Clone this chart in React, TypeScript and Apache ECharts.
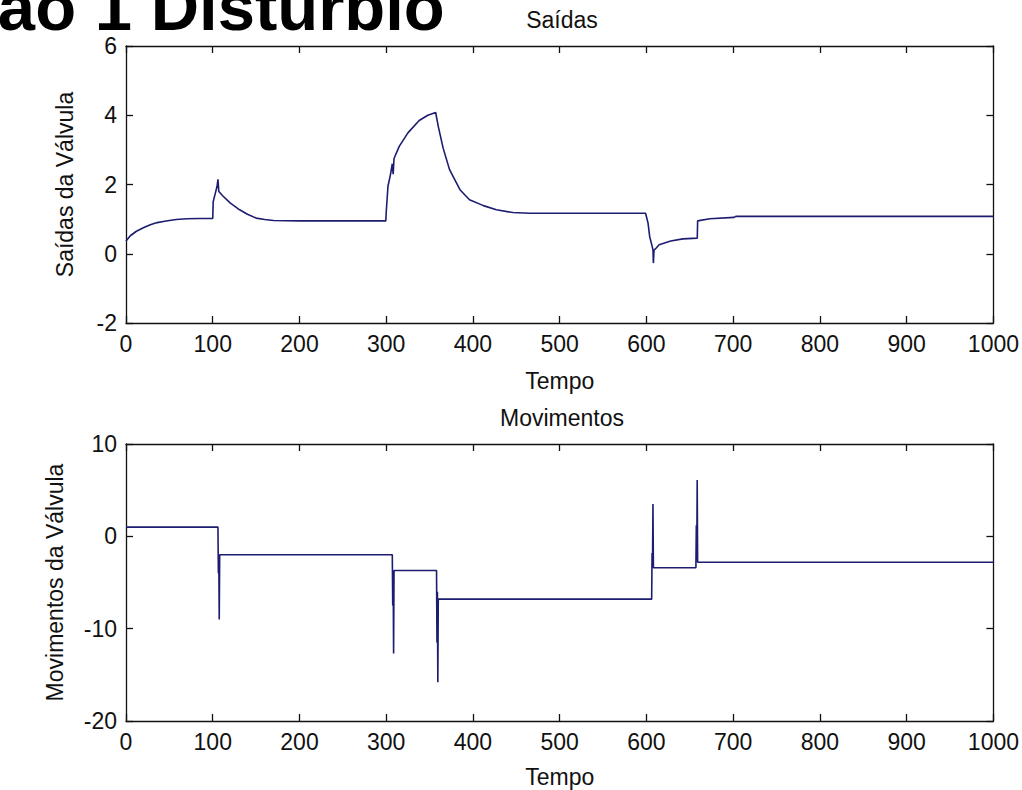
import React, { useEffect, useRef } from "react";
import * as echarts from "echarts";

// Saídas da Válvula (t, value)
const saidasT = [0, 5, 12, 20, 28, 36, 43, 50, 58, 70, 85, 100, 100.5, 103, 105, 106, 107, 112, 120, 131, 140, 150, 160, 170, 200, 299.5, 300, 302, 305, 307, 308, 309, 315, 325, 338, 348, 357, 360, 365.6, 373, 385, 396, 412, 427, 446, 465, 599, 601.8, 603.7, 607.5, 608, 608.7, 611, 614.6, 628, 642, 658.6, 659, 673, 701, 703, 1000];
const saidasV = [0.37, 0.52, 0.65, 0.75, 0.84, 0.9, 0.93, 0.96, 0.99, 1.01, 1.02, 1.02, 1.5, 1.75, 1.95, 2.15, 1.8, 1.66, 1.47, 1.27, 1.14, 1.03, 0.99, 0.96, 0.95, 0.95, 1.2, 1.95, 2.3, 2.6, 2.3, 2.75, 3.1, 3.49, 3.85, 4.0, 4.08, 3.68, 3.05, 2.43, 1.85, 1.56, 1.39, 1.27, 1.19, 1.17, 1.17, 0.89, 0.5, 0.12, -0.27, 0.1, 0.16, 0.26, 0.37, 0.43, 0.45, 0.95, 1.01, 1.05, 1.08, 1.08];

// Movimentos da Válvula (t, value)
const movT = [0, 106, 106.5, 107, 107.5, 108, 307, 307.5, 308, 308.5, 309, 358, 358.5, 359, 359.5, 360, 606, 606.5, 607, 607.5, 608, 657, 657.5, 658, 658.5, 659, 1000];
const movV = [1, 1, -4, -2.5, -9, -2, -2, -7.5, -4, -12.7, -3.7, -3.7, -11.5, -6, -15.8, -6.8, -6.8, -1.8, -3, 3.5, -3.4, -3.4, 1.2, -2.5, 6.1, -2.8, -2.8];

const topTitle = "Saídas";
const bottomTitle = "Movimentos";
const topYName = "Saídas da Válvula";
const bottomYName = "Movimentos da Válvula";
const xName = "Tempo";
const header = "ão 1 Distúrbio";

const FONT = "'Liberation Sans', Arial, sans-serif";
const LINE = "#1c1c70";

export default function App() {
  const ref = useRef<HTMLDivElement>(null);
  useEffect(() => {
    if (!ref.current) return;
    const chart = echarts.init(ref.current, null, { renderer: "svg" });
    const axisLine = { show: true, onZero: false, lineStyle: { color: "#111", width: 1.3 } };
    const tick = { show: true, inside: true, length: 7, lineStyle: { color: "#111", width: 1.3 } };
    const lbl = { color: "#111", fontSize: 23, fontFamily: FONT, formatter: (v: number) => String(v) };
    const mkX = (gi: number, pos: string, gap: number) => ({
      type: "value",
      gridIndex: gi,
      position: pos,
      min: 0,
      max: 1000,
      interval: 100,
      axisLine,
      axisTick: tick,
      splitLine: { show: false },
      axisLabel: pos === "bottom" ? { ...lbl, margin: 9 } : { show: false },
      name: pos === "bottom" ? xName : "",
      nameLocation: "middle",
      nameGap: gap,
      nameTextStyle: { color: "#111", fontSize: 23, fontFamily: FONT, verticalAlign: "top" },
    });
    const mkY = (gi: number, pos: string, min: number, max: number, interval: number, name: string, gap: number) => ({
      type: "value",
      gridIndex: gi,
      position: pos,
      min,
      max,
      interval,
      axisLine,
      axisTick: tick,
      splitLine: { show: false },
      axisLabel: pos === "left" ? { ...lbl, margin: 9 } : { show: false },
      name: pos === "left" ? name : "",
      nameLocation: "middle",
      nameGap: gap,
      nameTextStyle: { color: "#111", fontSize: 23, fontFamily: FONT },
    });
    chart.setOption({
      animation: false,
      backgroundColor: "#fff",
      title: [
        { text: topTitle, left: 557, top: 3, textAlign: "center", textStyle: { color: "#111", fontSize: 23, fontWeight: "normal", fontFamily: FONT } },
        { text: bottomTitle, left: 557, top: 401, textAlign: "center", textStyle: { color: "#111", fontSize: 23, fontWeight: "normal", fontFamily: FONT } },
      ],
      graphic: [
        {
          type: "text",
          left: -2,
          top: -27,
          style: { text: header, fill: "#000", font: `bold 67px ${FONT}` },
        },
      ],
      grid: [
        { left: 126, top: 46, width: 868, height: 277 },
        { left: 126, top: 444, width: 868, height: 277 },
      ],
      xAxis: [mkX(0, "bottom", 46), mkX(0, "top", 0), mkX(1, "bottom", 44), mkX(1, "top", 0)],
      yAxis: [
        mkY(0, "left", -2, 6, 2, topYName, 50),
        mkY(0, "right", -2, 6, 2, "", 0),
        mkY(1, "left", -20, 10, 10, bottomYName, 60),
        mkY(1, "right", -20, 10, 10, "", 0),
      ],
      series: [
        {
          type: "line",
          xAxisIndex: 0,
          yAxisIndex: 0,
          showSymbol: false,
          data: saidasT.map((t, i) => [t, saidasV[i]]),
          lineStyle: { color: LINE, width: 1.6 },
        },
        {
          type: "line",
          xAxisIndex: 2,
          yAxisIndex: 2,
          showSymbol: false,
          data: movT.map((t, i) => [t, movV[i]]),
          lineStyle: { color: LINE, width: 1.6 },
        },
      ],
    });
    return () => chart.dispose();
  }, []);
  return (
    <div style={{ position: "fixed", left: 0, top: 0, width: 1022, height: 790, background: "#fff" }}>
      <div ref={ref} style={{ width: 1022, height: 790 }} />
    </div>
  );
}
